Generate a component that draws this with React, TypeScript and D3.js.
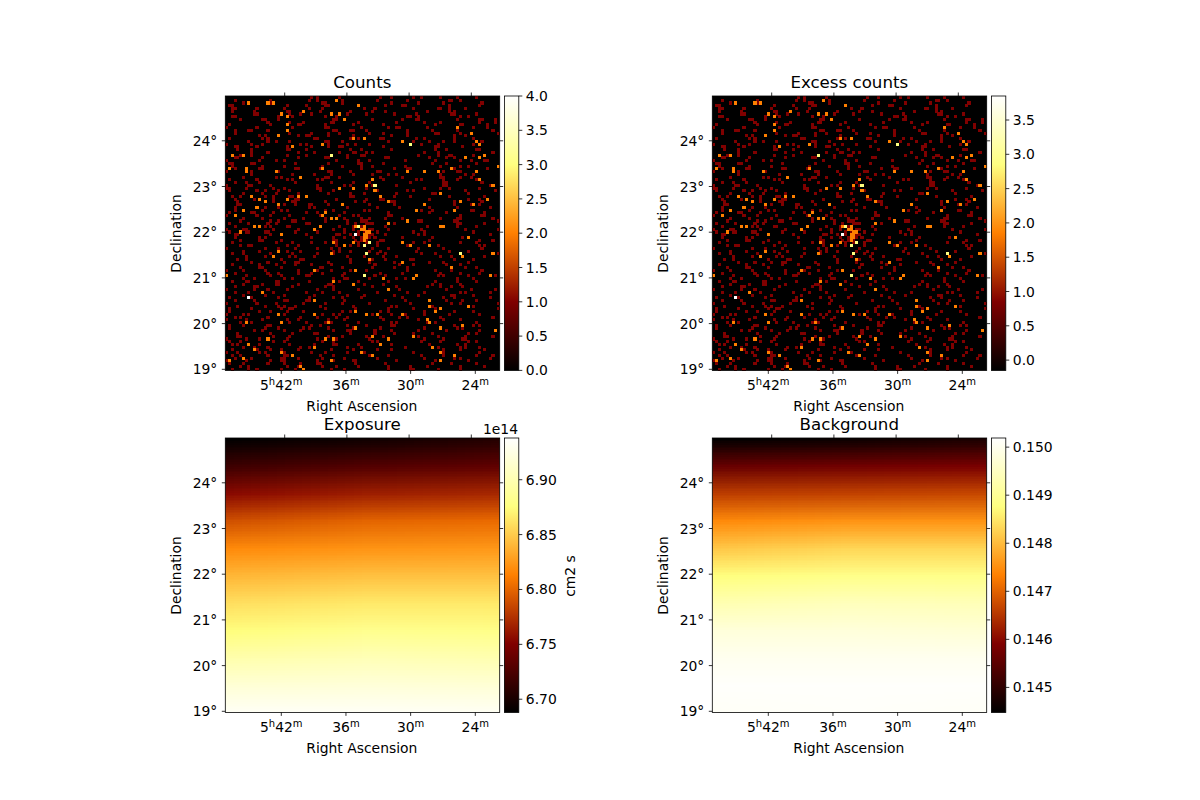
import React, { useMemo } from "react";
import * as d3 from "d3";

const raTicks = [42, 36, 30, 24];
const decTicks = [24, 23, 22, 21, 20, 19];
const countTicks = [0, 0.5, 1, 1.5, 2, 2.5, 3, 3.5, 4];
const excessTicks = [0, 0.5, 1, 1.5, 2, 2.5, 3, 3.5];
const exposureTicks = [6.7, 6.75, 6.8, 6.85, 6.9];
const backgroundTicks = [0.145, 0.146, 0.147, 0.148, 0.149, 0.15];

// Cells holding one count: index = row from the top, entries = column
const onesByRow: number[][] = [
  [31, 33, 41, 56, 60, 68, 71, 78, 84, 91],
  [3, 16, 30, 33, 42, 55, 66, 81, 82, 85],
  [6, 15, 16, 35, 36, 42, 60, 70, 79, 93],
  [1, 2, 22, 29, 36, 37, 58, 64, 65, 81, 92],
  [2, 3, 11, 21, 30, 35, 50, 54, 68, 77, 78, 81, 87],
  [2, 10, 22, 23, 34, 45, 53, 58, 73, 81, 83],
  [10, 11, 23, 27, 31, 44, 51, 61, 69, 82, 83, 91],
  [2, 3, 19, 24, 36, 40, 66, 67, 70, 85, 88],
  [5, 13, 14, 19, 39, 40, 53, 64, 69, 70, 84, 92, 93, 98],
  [15, 23, 28, 38, 39, 48, 62, 72, 78, 92, 98],
  [1, 16, 26, 27, 36, 46, 57, 76, 85, 86, 95],
  [0, 11, 24, 36, 37, 49, 59, 62, 63, 73, 90, 95],
  [3, 8, 9, 15, 39, 40, 45, 46, 51, 66, 75, 84, 97],
  [3, 23, 31, 37, 41, 52, 57, 66, 76, 77, 85, 99],
  [12, 14, 26, 29, 30, 37, 46, 60, 66, 83, 87],
  [1, 13, 15, 32, 33, 45, 48, 56, 57, 69, 72, 83, 90],
  [8, 15, 18, 23, 36, 37, 42, 59, 68, 74, 79, 83, 93],
  [0, 9, 13, 27, 29, 37, 44, 47, 52, 71, 77, 90],
  [3, 4, 11, 22, 31, 37, 41, 42, 57, 76, 77, 86],
  [4, 9, 22, 23, 29, 45, 49, 60, 76, 80, 91, 92],
  [9, 15, 26, 32, 41, 46, 47, 51, 53, 72, 77, 97],
  [5, 9, 22, 29, 44, 49, 50, 70, 77, 81, 82, 90],
  [3, 4, 13, 26, 36, 37, 44, 58, 59, 74, 80, 83],
  [0, 12, 18, 21, 40, 48, 52, 65, 76, 85, 89, 94, 95],
  [1, 2, 9, 10, 25, 37, 48, 49, 57, 75, 80, 91],
  [2, 13, 21, 35, 42, 49, 53, 65, 78, 85, 88],
  [3, 12, 13, 25, 26, 34, 49, 61, 66, 67, 83, 95],
  [0, 9, 18, 19, 37, 38, 45, 55, 56, 79, 84, 85],
  [9, 24, 32, 38, 46, 53, 59, 62, 78, 87, 90],
  [6, 18, 20, 36, 37, 41, 56, 64, 78, 79, 85, 89],
  [1, 11, 22, 24, 33, 35, 57, 69, 71, 79, 84, 91],
  [3, 7, 12, 25, 38, 46, 52, 67, 79, 80, 93],
  [0, 8, 9, 16, 33, 43, 45, 53, 62, 79, 80, 96],
  [0, 1, 7, 17, 21, 33, 34, 51, 72, 78, 81, 92],
  [1, 11, 14, 19, 23, 34, 39, 55, 66, 68, 87, 98],
  [6, 13, 18, 26, 37, 45, 50, 62, 75, 76, 88],
  [2, 5, 14, 17, 23, 24, 45, 46, 61, 67, 81, 94],
  [3, 10, 17, 25, 26, 40, 51, 56, 57, 74, 88, 92],
  [4, 17, 24, 25, 36, 47, 50, 60, 61, 83, 93],
  [4, 5, 21, 25, 30, 31, 37, 52, 61, 83, 89, 92],
  [3, 14, 19, 30, 32, 44, 55, 63, 74, 84, 96],
  [3, 13, 20, 22, 36, 39, 50, 52, 71, 75, 89, 90],
  [1, 9, 10, 17, 29, 33, 43, 59, 74, 80, 94],
  [0, 11, 16, 23, 34, 41, 46, 48, 59, 60, 85, 93, 94],
  [6, 13, 21, 28, 36, 43, 49, 52, 58, 64, 78, 84, 85, 97],
  [5, 16, 19, 24, 25, 36, 44, 49, 50, 51, 70, 71, 83, 84, 99],
  [1, 8, 15, 18, 29, 30, 44, 47, 51, 52, 53, 61, 84, 85, 94],
  [3, 14, 16, 22, 23, 41, 46, 47, 49, 50, 58, 73, 84, 91],
  [0, 6, 7, 17, 26, 39, 43, 46, 52, 53, 59, 71, 87, 99],
  [1, 7, 8, 14, 15, 25, 33, 43, 48, 50, 55, 68, 72, 90],
  [3, 4, 16, 29, 40, 41, 45, 48, 52, 53, 58, 70, 72, 96],
  [3, 12, 14, 31, 39, 43, 46, 49, 52, 54, 64, 75, 86],
  [5, 12, 13, 20, 39, 40, 47, 49, 51, 56, 57, 74, 92, 97],
  [2, 18, 24, 31, 36, 40, 48, 51, 55, 68, 72, 85, 91],
  [5, 8, 9, 22, 26, 40, 45, 48, 55, 66, 77, 92, 94],
  [0, 14, 19, 25, 33, 38, 41, 53, 59, 70, 79, 93],
  [6, 12, 22, 27, 39, 41, 45, 52, 56, 69, 81, 88],
  [2, 6, 16, 24, 33, 39, 55, 58, 71, 76, 97, 99],
  [7, 14, 23, 25, 32, 44, 50, 57, 62, 78, 82, 94],
  [4, 7, 20, 27, 28, 45, 53, 58, 67, 68, 83, 90],
  [9, 15, 21, 25, 26, 37, 45, 52, 61, 74, 79, 88],
  [2, 12, 18, 25, 31, 38, 54, 63, 68, 80, 85],
  [5, 12, 13, 20, 34, 35, 42, 53, 61, 66, 87, 91],
  [0, 6, 14, 26, 33, 38, 45, 51, 66, 76, 82, 93],
  [3, 15, 19, 26, 31, 35, 43, 56, 64, 78, 85, 92],
  [7, 16, 20, 29, 30, 42, 54, 58, 77, 79, 88, 98],
  [6, 10, 21, 24, 39, 43, 44, 52, 62, 65, 84, 90],
  [2, 7, 8, 18, 19, 30, 41, 48, 59, 76, 84, 91],
  [6, 13, 18, 19, 26, 37, 38, 50, 57, 75, 78, 85],
  [3, 10, 11, 24, 36, 39, 53, 62, 73, 78, 82, 86],
  [0, 10, 15, 22, 33, 39, 48, 59, 63, 80, 89, 98],
  [3, 8, 17, 29, 35, 41, 55, 66, 72, 85, 87, 96],
  [6, 14, 21, 32, 44, 50, 61, 70, 82, 83, 90],
  [1, 8, 9, 19, 30, 39, 42, 49, 64, 79, 83, 96],
  [3, 10, 21, 22, 29, 30, 43, 58, 65, 80, 86, 91],
  [0, 11, 18, 28, 36, 42, 52, 67, 82, 85, 99],
  [4, 14, 19, 21, 25, 34, 46, 60, 62, 75, 88, 90],
  [1, 9, 20, 23, 24, 36, 47, 59, 68, 76, 78, 99],
  [1, 12, 16, 22, 28, 42, 45, 56, 59, 72, 83, 90],
  [0, 6, 8, 21, 35, 39, 41, 53, 60, 65, 72, 81, 92],
  [3, 5, 15, 27, 33, 40, 44, 56, 63, 66, 78, 97],
  [0, 7, 13, 22, 26, 37, 43, 57, 70, 73, 79, 85],
  [5, 9, 23, 29, 36, 38, 48, 60, 62, 73, 76, 91],
  [1, 6, 15, 16, 31, 34, 44, 51, 60, 61, 83, 90, 92],
  [1, 14, 19, 28, 30, 37, 46, 56, 72, 84, 86],
  [10, 13, 21, 27, 39, 44, 45, 54, 60, 70, 80, 92],
  [4, 16, 24, 32, 33, 45, 54, 61, 68, 75, 88, 91],
  [4, 5, 17, 23, 37, 42, 51, 57, 70, 77, 87, 97],
  [0, 7, 12, 22, 33, 40, 52, 59, 72, 79, 86, 87],
  [1, 5, 17, 21, 35, 39, 53, 55, 71, 78, 88, 91],
  [2, 4, 12, 23, 32, 39, 40, 48, 60, 74, 84, 87],
  [6, 10, 15, 27, 30, 44, 49, 65, 77, 85, 87, 92],
  [2, 11, 16, 20, 26, 38, 46, 55, 60, 79, 85, 94],
  [0, 4, 12, 14, 21, 31, 36, 44, 50, 68, 79, 92],
  [2, 5, 15, 21, 22, 34, 39, 52, 59, 71, 79, 91, 97],
  [3, 9, 20, 21, 26, 35, 43, 55, 72, 83, 85, 96],
  [0, 7, 16, 20, 21, 33, 39, 46, 47, 62, 76, 88],
  [1, 6, 15, 21, 27, 33, 34, 47, 58, 75, 82, 91],
  [5, 8, 22, 26, 35, 40, 48, 59, 67, 73, 85, 94],
  [2, 8, 11, 20, 25, 38, 43, 59, 67, 68, 77, 85],
];

// Cells holding two counts, read as [column, row]
const twoCells: [number, number][] = [
  [8, 2], [17, 2], [15, 2], [40, 1], [48, 3], [38, 6], [41, 6], [28, 5], [20, 6], [22, 7], [43, 8], [22, 10], [22, 12], [19, 14],
  [46, 15], [35, 17], [24, 18], [2, 21], [6, 21], [1, 26], [7, 26], [7, 27], [18, 27], [27, 29], [35, 26], [41, 33], [46, 33],
  [9, 36], [22, 37], [26, 36], [29, 36], [12, 37], [14, 38], [42, 39], [19, 39], [11, 40], [6, 41], [36, 42], [3, 43], [35, 43],
  [38, 44], [40, 44], [10, 47], [12, 47], [34, 47], [32, 48], [5, 49],
  [84, 11], [89, 13], [50, 15], [64, 16], [91, 16], [92, 17], [94, 21], [87, 22], [92, 22], [99, 25], [82, 26], [66, 27], [72, 27],
  [77, 27], [91, 27], [92, 30], [53, 30], [51, 32], [97, 32], [54, 34], [56, 36], [78, 35], [95, 37], [59, 38], [85, 38], [72, 39],
  [90, 39], [69, 41], [83, 41], [66, 45], [59, 46], [78, 47], [79, 47],
  [20, 50], [39, 53], [43, 54], [46, 53], [17, 58], [19, 56], [38, 57], [32, 63], [47, 63], [0, 65], [39, 67], [46, 68], [13, 71],
  [32, 74], [19, 79], [32, 79], [7, 82], [20, 82], [37, 82], [47, 78], [47, 84], [15, 88], [36, 88], [39, 88], [8, 90], [32, 91],
  [10, 92], [20, 93], [49, 93], [24, 94], [6, 95], [1, 96], [38, 96], [27, 98], [28, 99],
  [50, 50], [51, 50], [50, 51], [51, 51], [51, 49], [52, 49], [47, 47], [50, 47], [49, 48], [50, 48], [50, 52], [64, 53], [67, 54],
  [74, 54], [88, 51], [86, 58], [97, 57], [52, 59], [64, 60], [82, 62], [57, 66], [68, 66], [69, 65], [96, 65], [59, 70], [74, 74],
  [74, 76], [78, 77], [76, 78], [88, 76], [51, 79], [55, 79], [64, 79], [73, 81], [74, 82], [78, 84], [86, 83], [98, 85], [53, 87],
  [68, 87], [59, 88], [56, 90], [75, 91], [78, 93], [83, 94], [53, 94], [78, 96],
];
// Cells holding three counts
const threeCells: [number, number][] = [
  [38, 21], [67, 17], [54, 32], [48, 47], [50, 54], [52, 53], [51, 57], [85, 57], [50, 65],
];
// Cells holding four counts
const fourCells: [number, number][] = [[47, 50], [8, 73]];

// Exposure in units of 1e14 cm2 s, eleven rows from the top edge to the bottom edge, read at the left, middle, right
const exposureLeft = [6.688, 6.718, 6.755, 6.79, 6.818, 6.84, 6.86, 6.875, 6.898, 6.918, 6.934];
const exposureMiddle = [6.695, 6.728, 6.765, 6.8, 6.823, 6.845, 6.865, 6.883, 6.903, 6.92, 6.934];
const exposureRight = [6.705, 6.735, 6.77, 6.803, 6.825, 6.845, 6.865, 6.88, 6.9, 6.918, 6.933];
// Background, same layout
const backgroundLeft = [0.14448, 0.14562, 0.14659, 0.14745, 0.14813, 0.14876, 0.14933, 0.14979, 0.15002, 0.15016, 0.1501];
const backgroundMiddle = [0.14459, 0.14574, 0.14665, 0.14756, 0.14831, 0.14888, 0.14945, 0.14979, 0.15002, 0.15016, 0.15013];
const backgroundRight = [0.14477, 0.14585, 0.14671, 0.14756, 0.14831, 0.14888, 0.14939, 0.14973, 0.15002, 0.15016, 0.1501];

const FONT = "'DejaVu Sans'";
const SIZE = 274.4;
const LEFTS = [225.3, 712.3];
const TOPS = [96, 438];
const BAR_W = 14.4;
const BAR_GAP = 4.7;

const clamp01 = (v: number) => Math.max(0, Math.min(1, v));
function afmhot(t: number): string {
  const r = clamp01(2 * t);
  const g = clamp01(2 * t - 0.5);
  const b = clamp01(2 * t - 1);
  return d3.rgb(r * 255, g * 255, b * 255).formatHex();
}

function fieldImage(columns: number[][], domain: [number, number]): string {
  const t = d3.scaleLinear().domain(domain).range([0, 1]);
  const rows = columns[0].length;
  const canvas = document.createElement("canvas");
  canvas.width = columns.length;
  canvas.height = rows;
  const ctx = canvas.getContext("2d")!;
  columns.forEach((col, i) =>
    col.forEach((v, j) => {
      ctx.fillStyle = afmhot(t(v));
      ctx.fillRect(i, j, 1, 1);
    })
  );
  return canvas.toDataURL();
}

const txt = { fontFamily: FONT, fill: "#000" } as const;

function Frame({ x, y, w, h }: { x: number; y: number; w: number; h: number }) {
  return <rect x={x} y={y} width={w} height={h} fill="none" stroke="#000" strokeWidth={0.8} />;
}

function Axes({ px, py, title }: { px: number; py: number; title: string }) {
  const yScale = d3.scaleLinear().domain([24, 19]).range([py + 44.8, py + 273.3]);
  const bottomX = d3.scaleLinear().domain([42, 24]).range([px + 56, px + 250]);
  const topX = d3.scaleLinear().domain([42, 24]).range([px + 59.4, px + 246]);
  return (
    <g>
      <Frame x={px} y={py} w={SIZE} h={SIZE} />
      {raTicks.map((ra, i) => (
        <g key={ra}>
          <line x1={bottomX(ra)} x2={bottomX(ra)} y1={py + SIZE} y2={py + SIZE + 3.5} stroke="#000" strokeWidth={0.8} />
          <line x1={topX(ra)} x2={topX(ra)} y1={py} y2={py - 3.5} stroke="#000" strokeWidth={0.8} />
          <text x={bottomX(ra)} y={py + 294} textAnchor="middle" fontSize={13.9} {...txt}>
            {i === 0 ? (
              <>
                5<tspan fontSize={10} dy={-5}>h</tspan>
                <tspan dy={5}>42</tspan>
                <tspan fontSize={10} dy={-5}>m</tspan>
              </>
            ) : (
              <>
                {ra}
                <tspan fontSize={10} dy={-5}>m</tspan>
              </>
            )}
          </text>
        </g>
      ))}
      {decTicks.map((dec) => (
        <g key={dec}>
          <line x1={px} x2={px - 3.5} y1={yScale(dec)} y2={yScale(dec)} stroke="#000" strokeWidth={0.8} />
          {dec > 19 && <line x1={px + SIZE} x2={px + SIZE + 3.5} y1={yScale(dec)} y2={yScale(dec)} stroke="#000" strokeWidth={0.8} />}
          <text x={px - 8} y={yScale(dec) + 5} textAnchor="end" fontSize={13.9} {...txt}>{`${dec}°`}</text>
        </g>
      ))}
      <text x={px + 137} y={py - 8} textAnchor="middle" fontSize={16.67} {...txt}>{title}</text>
      <text x={px + 136.5} y={py + 315} textAnchor="middle" fontSize={13.9} {...txt}>Right Ascension</text>
      <text transform={`translate(${px - 44},${py + 137.5}) rotate(-90)`} textAnchor="middle" fontSize={13.9} {...txt}>Declination</text>
    </g>
  );
}

function ColorBar({ px, py, domain, ticks, format, id }: { px: number; py: number; domain: [number, number]; ticks: number[]; format: (v: number) => string; id: string }) {
  const x = px + SIZE + BAR_GAP;
  const scale = d3.scaleLinear().domain(domain).range([py + SIZE, py]);
  const stops = [0, 0.25, 0.5, 0.75, 1];
  return (
    <g>
      <defs>
        <linearGradient id={id} x1="0" y1="1" x2="0" y2="0">
          {stops.map((s) => (
            <stop key={s} offset={s} stopColor={afmhot(s)} />
          ))}
        </linearGradient>
      </defs>
      <rect x={x} y={py} width={BAR_W} height={SIZE} fill={`url(#${id})`} />
      <Frame x={x} y={py} w={BAR_W} h={SIZE} />
      {ticks.map((v) => (
        <g key={v}>
          <line x1={x + BAR_W} x2={x + BAR_W + 3.5} y1={scale(v)} y2={scale(v)} stroke="#000" strokeWidth={0.8} />
          <text x={x + BAR_W + 7} y={scale(v) + 5} fontSize={13.9} {...txt}>{format(v)}</text>
        </g>
      ))}
    </g>
  );
}

function SparseMap({ px, py, id }: { px: number; py: number; id: string }) {
  const band = d3.scaleBand<number>().domain(d3.range(100)).range([0, SIZE]);
  const color = d3.scaleLinear().domain([0, 4]).range([0, 1]);
  const cells: { col: number; row: number; count: number }[] = [];
  onesByRow.forEach((cols, row) => cols.forEach((col) => cells.push({ col, row, count: 1 })));
  twoCells.forEach(([col, row]) => cells.push({ col, row, count: 2 }));
  threeCells.forEach(([col, row]) => cells.push({ col, row, count: 3 }));
  fourCells.forEach(([col, row]) => cells.push({ col, row, count: 4 }));
  return (
    <g>
      <rect x={px} y={py} width={SIZE} height={SIZE} fill="#000" />
      <g shapeRendering="crispEdges" data-id={id}>
        {cells.map((c, i) => (
          <rect key={i} x={px + band(c.col)!} y={py + band(c.row)!} width={band.bandwidth() + 0.3} height={band.bandwidth() + 0.3} fill={afmhot(color(c.count))} />
        ))}
      </g>
    </g>
  );
}

function FieldMap({ px, py, href, id, rows, cols }: { px: number; py: number; href: string; id: string; rows: number; cols: number }) {
  const dx = SIZE / (cols - 1) / 2;
  const dy = SIZE / (rows - 1) / 2;
  return (
    <g>
      <defs>
        <clipPath id={id}>
          <rect x={px} y={py} width={SIZE} height={SIZE} />
        </clipPath>
      </defs>
      <g clipPath={`url(#${id})`}>
        <image href={href} x={px - dx} y={py - dy} width={SIZE + 2 * dx} height={SIZE + 2 * dy} preserveAspectRatio="none" />
      </g>
    </g>
  );
}

export default function App() {
  const exposureDomain: [number, number] = [6.688, 6.938];
  const backgroundDomain: [number, number] = [0.14448, 0.15019];
  const exposureHref = useMemo(() => fieldImage([exposureLeft, exposureMiddle, exposureRight], exposureDomain), []);
  const backgroundHref = useMemo(() => fieldImage([backgroundLeft, backgroundMiddle, backgroundRight], backgroundDomain), []);
  const [x0, x1] = LEFTS;
  const [y0, y1] = TOPS;
  return (
    <svg width={1200} height={800} style={{ position: "absolute", left: 0, top: 0, background: "#fff" }}>
      <SparseMap px={x0} py={y0} id="counts" />
      <Axes px={x0} py={y0} title="Counts" />
      <ColorBar px={x0} py={y0} domain={[0, 4]} ticks={countTicks} format={d3.format(".1f")} id="cb0" />

      <SparseMap px={x1} py={y0} id="excess" />
      <Axes px={x1} py={y0} title="Excess counts" />
      <ColorBar px={x1} py={y0} domain={[-0.15, 3.85]} ticks={excessTicks} format={d3.format(".1f")} id="cb1" />

      <FieldMap px={x0} py={y1} href={exposureHref} id="clipE" rows={exposureLeft.length} cols={3} />
      <Axes px={x0} py={y1} title="Exposure" />
      <ColorBar px={x0} py={y1} domain={exposureDomain} ticks={exposureTicks} format={d3.format(".2f")} id="cb2" />
      <text x={518} y={434} textAnchor="end" fontSize={13.9} {...txt}>1e14</text>
      <text transform="translate(575,576) rotate(-90)" textAnchor="middle" fontSize={13.9} {...txt}>cm2 s</text>

      <FieldMap px={x1} py={y1} href={backgroundHref} id="clipB" rows={backgroundLeft.length} cols={3} />
      <Axes px={x1} py={y1} title="Background" />
      <ColorBar px={x1} py={y1} domain={backgroundDomain} ticks={backgroundTicks} format={d3.format(".3f")} id="cb3" />
    </svg>
  );
}
